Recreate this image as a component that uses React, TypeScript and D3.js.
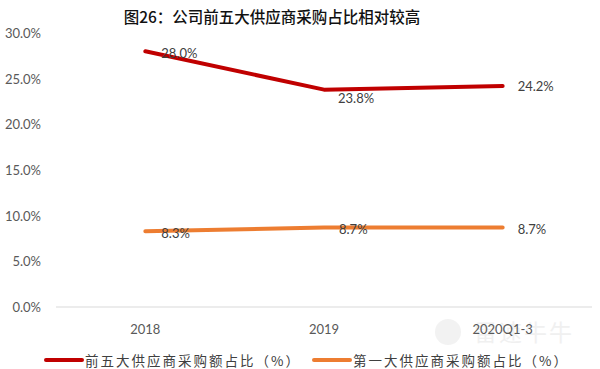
import React from "react";
import { scaleBand, scaleLinear, line as d3line } from "d3";

const categories = ["2018", "2019", "2020Q1-3"];
const top5Share = [28.0, 23.8, 24.2];
const top1Share = [8.3, 8.7, 8.7];
const yTicks = [0, 5, 10, 15, 20, 25, 30];
const seriesNames = ["前五大供应商采购额占比（%）", "第一大供应商采购额占比（%）"];
const title = "图26：公司前五大供应商采购占比相对较高";

const W = 600;
const H = 369;
const RED = "#C00000";
const ORANGE = "#ED7D31";
const labelFont = "Lato, 'Open Sans', sans-serif";
const cjkFont = "'Noto Sans CJK SC', sans-serif";

export default function App() {
  const x = scaleBand<string>().domain(categories).range([56, 592]);
  const y = scaleLinear().domain([0, 30]).range([307, 33]);
  const cx = (c: string) => (x(c) ?? 0) + x.bandwidth() / 2;

  const line = d3line<number>()
    .x((_, i) => cx(categories[i]))
    .y((d) => y(d));

  // label offsets (dx, dy) relative to point, as placed in the source chart
  const top5Offsets = [[16, 2], [14, 8], [15, 0]];
  const top1Offsets = [[16, 2], [15, 1], [15, 1]];

  return (
    <svg width={W} height={H} style={{ position: "absolute", left: 0, top: 0, background: "#fff" }}>
      <text x={272} y={16} textAnchor="middle" dominantBaseline="central"
        fontFamily={cjkFont} fontSize={15.5} fontWeight={500} fill="#111">
        {title}
      </text>

      {/* watermark */}
      <g opacity={0.45}>
        <circle cx={448} cy={332} r={13} fill="#e3e3e3" />
        <text x={474} y={331} dominantBaseline="central" fontFamily={cjkFont}
          fontSize={23} letterSpacing={2} fill="#e0e0e0">雷速牛牛</text>
      </g>

      {yTicks.map((t) => (
        <text key={t} x={41} y={y(t)} textAnchor="end" dominantBaseline="central"
          fontFamily={labelFont} fontSize={13} fill="#595959">
          {t.toFixed(1)}%
        </text>
      ))}

      <line x1={56} x2={592} y1={y(0)} y2={y(0)} stroke="#d9d9d9" strokeWidth={1} />

      {categories.map((c) => (
        <text key={c} x={cx(c)} y={329} textAnchor="middle" dominantBaseline="central"
          fontFamily={labelFont} fontSize={13} fill="#595959">
          {c}
        </text>
      ))}

      <path d={line(top5Share) ?? ""} fill="none" stroke={RED} strokeWidth={4} strokeLinecap="round" strokeLinejoin="round" />
      <path d={line(top1Share) ?? ""} fill="none" stroke={ORANGE} strokeWidth={4} strokeLinecap="round" strokeLinejoin="round" />

      {top5Share.map((v, i) => (
        <text key={"a" + i} x={cx(categories[i]) + top5Offsets[i][0]} y={y(v) + top5Offsets[i][1]}
          dominantBaseline="central" fontFamily={labelFont} fontSize={13} fill="#404040">
          {v.toFixed(1)}%
        </text>
      ))}
      {top1Share.map((v, i) => (
        <text key={"b" + i} x={cx(categories[i]) + top1Offsets[i][0]} y={y(v) + top1Offsets[i][1]}
          dominantBaseline="central" fontFamily={labelFont} fontSize={13} fill="#404040">
          {v.toFixed(1)}%
        </text>
      ))}

      {/* legend */}
      <line x1={46} x2={82} y1={360} y2={360} stroke={RED} strokeWidth={4} strokeLinecap="round" />
      <text x={85} y={360} dominantBaseline="central" fontFamily={cjkFont} fontSize={13.5}
        letterSpacing={2} fill="#404040">{seriesNames[0]}</text>
      <line x1={314} x2={350} y1={360} y2={360} stroke={ORANGE} strokeWidth={4} strokeLinecap="round" />
      <text x={353} y={360} dominantBaseline="central" fontFamily={cjkFont} fontSize={13.5}
        letterSpacing={2} fill="#404040">{seriesNames[1]}</text>
    </svg>
  );
}
